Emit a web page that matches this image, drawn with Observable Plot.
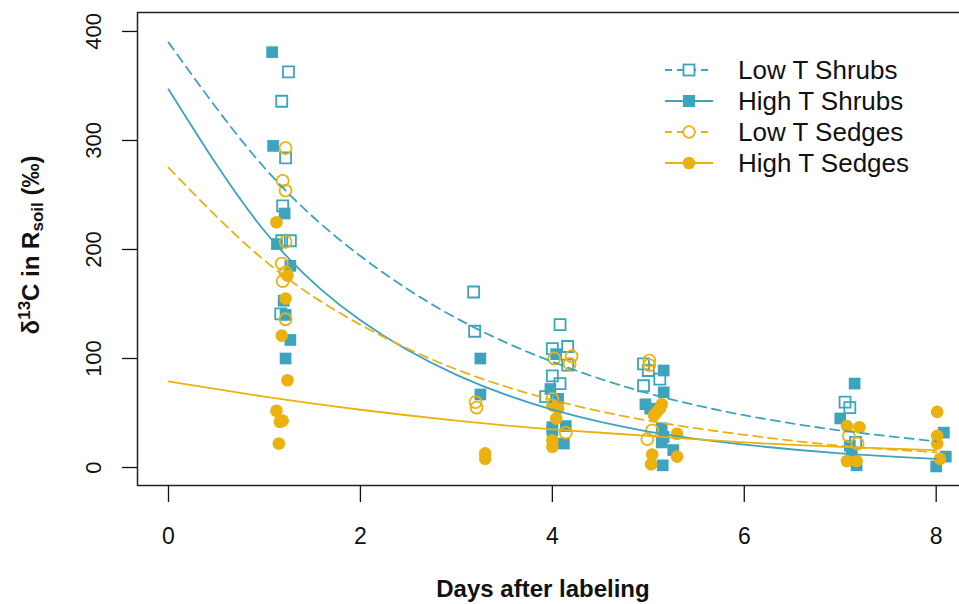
<!DOCTYPE html>
<html><head><meta charset="utf-8">
<script src="https://cdn.jsdelivr.net/npm/d3@7"></script>
<script src="https://cdn.jsdelivr.net/npm/@observablehq/plot@0.6"></script>
<style>body{margin:0;background:#fff}</style>
</head><body><div id="chart"></div>
<script>
// ---- data ----
const lowShrubX = [1.25,1.18,1.22,1.19,1.18,1.27,1.17, 3.18,3.19, 4.08,4.00,4.16,4.16,4.00,4.08,3.93, 4.95,5.00,5.12,4.95, 7.05,7.10,7.16];
const lowShrubY = [363,336,284,240,208,208,141, 161,125, 131,109,111,94,84,77,65, 95,89,81,75, 60,55,23];

const highShrubX = [1.08,1.09,1.21,1.13,1.27,1.20,1.22,1.27,1.22, 3.25,3.25, 4.04,3.98,4.06,4.00,4.14,4.00,4.12, 5.16,5.16,4.97,5.02,5.14,5.16,5.14,5.26,5.15, 7.15,7.00,7.10,7.12,7.17, 8.08,8.10,8.00];
const highShrubY = [381,295,233,205,185,153,140,117,100, 100,67, 104,72,63,37,38,34,22, 89,69,58,54,36,28,23,16,2, 77,45,20,14,2, 32,10,1];

const lowSedgeX = [1.22,1.19,1.22,1.22,1.18,1.22,1.19,1.22, 3.20,3.21, 4.20,4.18,4.02,4.00,4.14, 5.01,5.01,5.04,4.99, 7.09,7.18];
const lowSedgeY = [293,263,254,207,187,179,171,136, 60,55, 102,95,100,63,32, 98,94,34,26, 29,22];

const highSedgeX = [1.125,1.24,1.22,1.18,1.24,1.125,1.16,1.19,1.15, 3.30,3.30, 4.00,4.06,4.04,4.00,4.00, 5.14,5.12,5.09,5.06,5.30,5.04,5.30,5.03, 7.07,7.20,7.07,7.17, 8.01,8.01,8.01,8.04];
const highSedgeY = [225,176,155,121,80,52,42,43,22, 13,8, 57,54,45,25,19, 58,54,51,48,31,12,10,3, 38,37,6,6, 51,29,22,8];

// fitted curves at whole days
const curveDays = [0,1,2,3,4,5,6,7,8];
const lowShrubCurve  = [390,275,194,137,97,68,48,34,24];
const highShrubCurve = [347,217,135,85,53,33,21,13,8];
const lowSedgeCurve  = [275,190,131,90,62,43,30,20,14];
const highSedgeCurve = [79,65,53,43,35,29,23,19,16];

const xTicks = [0,2,4,6,8];
const yTicks = [0,100,200,300,400];
const seriesNames = ["Low T Shrubs","High T Shrubs","Low T Sedges","High T Sedges"];

const teal = "#3da4be", gold = "#ebb10e";
const pts = (xs, ys) => xs.map((x, i) => ({x, y: ys[i]}));
const crv = ys => curveDays.map((x, i) => ({x, y: ys[i]}));
const dash = "9,6";

const plot = Plot.plot({
  width: 959, height: 604,
  marginLeft: 137, marginTop: 12, marginBottom: 119, marginRight: -17,
  x: {domain: [-0.323, 8.42]},
  y: {domain: [-16.5, 417.4]},
  style: {fontFamily: "'Liberation Sans', Arial, sans-serif", color: "#111", background: "white", overflow: "hidden"},
  marks: [
    Plot.frame({stroke: "#222", strokeWidth: 1.5}),
    Plot.axisY({ticks: yTicks, tickSize: 15, tickRotate: -90, tickPadding: 22, fontSize: 22, label: null, tickFormat: d => String(d), strokeWidth: 1.3}),
    Plot.axisX({ticks: xTicks, tickSize: 17, tickPadding: 25, fontSize: 23, label: null, tickFormat: d => String(d), strokeWidth: 1.3}),
    Plot.dot(pts(highShrubX, highShrubY), {x: "x", y: "y", symbol: "square", r: 6.6, fill: teal}),
    Plot.dot(pts(highSedgeX, highSedgeY), {x: "x", y: "y", symbol: "circle", r: 6.3, fill: gold}),
    Plot.dot(pts(lowShrubX, lowShrubY), {x: "x", y: "y", symbol: "square", r: 6.2, fill: "none", stroke: teal, strokeWidth: 1.8}),
    Plot.dot(pts(lowSedgeX, lowSedgeY), {x: "x", y: "y", symbol: "circle", r: 6, fill: "none", stroke: gold, strokeWidth: 1.8}),
    Plot.line(crv(lowShrubCurve), {x: "x", y: "y", stroke: teal, strokeWidth: 1.8, strokeDasharray: dash, curve: "natural"}),
    Plot.line(crv(highShrubCurve), {x: "x", y: "y", stroke: teal, strokeWidth: 1.8, curve: "natural"}),
    Plot.line(crv(lowSedgeCurve), {x: "x", y: "y", stroke: gold, strokeWidth: 1.8, strokeDasharray: dash, curve: "natural"}),
    Plot.line(crv(highSedgeCurve), {x: "x", y: "y", stroke: gold, strokeWidth: 1.8, curve: "natural"})
  ]
});
document.getElementById("chart").appendChild(plot);

const svg = d3.select(plot);
// axis titles
svg.append("text").attr("x", 543).attr("y", 597).attr("text-anchor", "middle")
  .attr("font-size", 24).attr("font-weight", "bold").attr("fill", "#111").text("Days after labeling");
const yt = svg.append("text").attr("transform", "translate(39,245) rotate(-90)").attr("text-anchor", "middle")
  .attr("font-size", 24).attr("font-weight", "bold").attr("fill", "#111");
yt.append("tspan").text("δ");
yt.append("tspan").attr("font-size", 17).attr("dy", -9).text("13");
yt.append("tspan").attr("dy", 9).text("C in R");
yt.append("tspan").attr("font-size", 17).attr("dy", 4).text("soil");
yt.append("tspan").attr("dy", -4).text(" (‰)");

// legend
const leg = svg.append("g");
const legItems = [
  {name: seriesNames[0], color: teal, dashed: true, sym: "square", filled: false},
  {name: seriesNames[1], color: teal, dashed: false, sym: "square", filled: true},
  {name: seriesNames[2], color: gold, dashed: true, sym: "circle", filled: false},
  {name: seriesNames[3], color: gold, dashed: false, sym: "circle", filled: true}
];
legItems.forEach((it, i) => {
  const cy = 70 + i * 31;
  leg.append("line").attr("x1", 665).attr("x2", 713).attr("y1", cy).attr("y2", cy)
    .attr("stroke", it.color).attr("stroke-width", 1.8).attr("stroke-dasharray", it.dashed ? "7,5" : null);
  if (it.sym === "square") {
    const s = it.filled ? 12 : 11;
    leg.append("rect").attr("x", 689 - s/2).attr("y", cy - s/2).attr("width", s).attr("height", s)
      .attr("fill", it.filled ? it.color : "white").attr("stroke", it.filled ? "none" : it.color).attr("stroke-width", 1.8);
  } else {
    leg.append("circle").attr("cx", 689).attr("cy", cy).attr("r", it.filled ? 6.3 : 5.8)
      .attr("fill", it.filled ? it.color : "white").attr("stroke", it.filled ? "none" : it.color).attr("stroke-width", 1.8);
  }
  leg.append("text").attr("x", 738).attr("y", cy).attr("dy", "0.36em").attr("text-anchor", "start")
    .attr("font-size", 26).attr("fill", "#111").text(it.name);
});
</script>
</body></html>
